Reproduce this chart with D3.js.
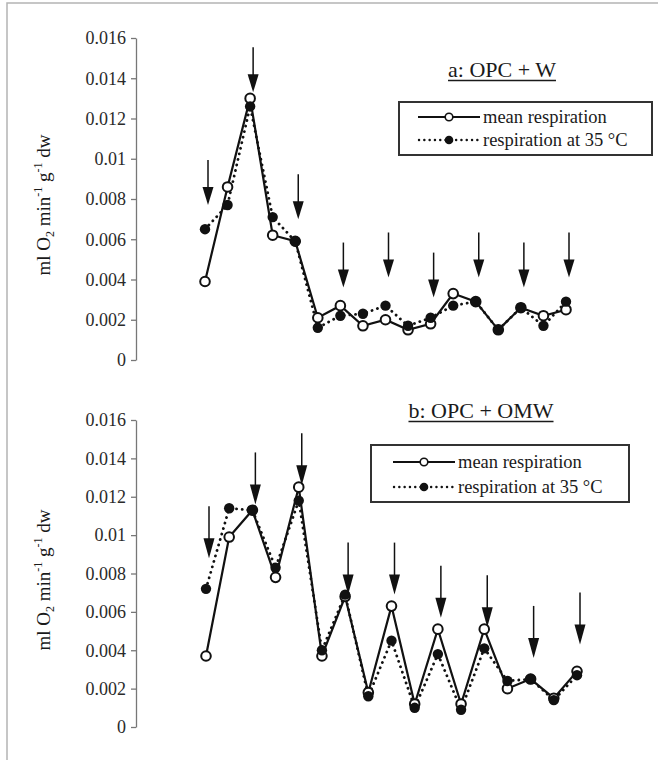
<!DOCTYPE html>
<html>
<head>
<meta charset="utf-8">
<script src="https://cdn.jsdelivr.net/npm/d3@7"></script>
<style>
  body { margin: 0; background: #fff; }
  svg { display: block; }
  svg text { font-family: "Liberation Serif", "Times New Roman", serif; }
</style>
</head>
<body>
<svg width="658" height="760" font-family="Liberation Serif, serif"></svg>
<script>
// sampling number along the x direction (no x axis drawn in the original)
var samples = [1, 2, 3, 4, 5, 6, 7, 8, 9, 10, 11, 12, 13, 14, 15, 16, 17];

// y ticks
var tickValues = [0, 0.002, 0.004, 0.006, 0.008, 0.01, 0.012, 0.014, 0.016];
var tickLabels = ["0", "0.002", "0.004", "0.006", "0.008", "0.01", "0.012", "0.014", "0.016"];

var legendLabels = ["mean respiration", "respiration at 35 \u00b0C"];

// a: OPC + W
var titleA = "a: OPC + W";
var meanA = [0.0039, 0.0086, 0.0130, 0.0062, 0.0059, 0.0021, 0.0027, 0.0017, 0.0020, 0.0015, 0.0018, 0.0033, 0.0029, 0.0015, 0.0026, 0.0022, 0.0025];
var hotA  = [0.0065, 0.0077, 0.0126, 0.0071, 0.0059, 0.0016, 0.0022, 0.0023, 0.0027, 0.0017, 0.0021, 0.0027, 0.0029, 0.0015, 0.0026, 0.0017, 0.0029];
var arrowSamplesA = [1, 3, 5, 7, 9, 11, 13, 15, 17];
var arrowTipsA = [0.0077, 0.0133, 0.0070, 0.0036, 0.0041, 0.0031, 0.0041, 0.0036, 0.0041];

// b: OPC + OMW
var titleB = "b: OPC + OMW";
var meanB = [0.0037, 0.0099, 0.0113, 0.0078, 0.0125, 0.0037, 0.0068, 0.0018, 0.0063, 0.0012, 0.0051, 0.0012, 0.0051, 0.0020, 0.0025, 0.0015, 0.0029];
var hotB  = [0.0072, 0.0114, 0.0113, 0.0083, 0.0118, 0.0040, 0.0069, 0.0016, 0.0045, 0.0010, 0.0038, 0.0009, 0.0041, 0.0024, 0.0025, 0.0014, 0.0027];
var arrowSamplesB = [1, 3, 5, 7, 9, 11, 13, 15, 17];
var arrowTipsB = [0.0088, 0.0116, 0.0126, 0.0069, 0.0069, 0.0057, 0.0052, 0.0036, 0.0043];

var svg = d3.select("svg");

// scanned page frame
svg.append("path")
    .attr("d", "M7,760V3H658")
    .attr("fill", "none")
    .attr("stroke", "#b4b4b4")
    .attr("stroke-width", 1.5);

var panels = [
  {title: titleA, mean: meanA, hot: hotA, arrowAt: arrowSamplesA, arrowTip: arrowTipsA,
   yTop: 38, yBot: 360, xFirst: 205, xLast: 566, labelY: 205,
   titleX: 502, titleY: 77, box: [399, 102, 253, 53], legX: 418, rowY: [117, 140],
   arrowLen: 45, headH: 18},
  {title: titleB, mean: meanB, hot: hotB, arrowAt: arrowSamplesB, arrowTip: arrowTipsB,
   yTop: 420, yBot: 727, xFirst: 206, xLast: 577, labelY: 580,
   titleX: 481, titleY: 418, box: [371, 445, 258, 57], legX: 393, rowY: [462, 487],
   arrowLen: 52, headH: 20}
];

var ink = "#111";

panels.forEach(function(p) {
  var x = d3.scalePoint().domain(samples).range([p.xFirst, p.xLast]);
  var y = d3.scaleLinear().domain([0, 0.016]).range([p.yBot, p.yTop]);

  var g = svg.append("g");

  // y axis
  var ax = g.append("g")
      .attr("transform", "translate(136,0)")
      .call(d3.axisLeft(y)
        .tickValues(tickValues)
        .tickFormat(function(d, i) { return tickLabels[i]; })
        .tickSize(5)
        .tickSizeOuter(0)
        .tickPadding(5));
  ax.attr("font-family", "Liberation Serif, serif");
  ax.select(".domain").attr("stroke", "#777").attr("stroke-width", 1.3);
  ax.selectAll(".tick line").attr("stroke", "#777").attr("stroke-width", 1.3);
  ax.selectAll(".tick text")
      .attr("fill", "#2a2a2a")
      .style("font-size", "18px");

  // y label
  var lab = g.append("text")
      .attr("transform", "translate(50," + p.labelY + ") rotate(-90)")
      .attr("text-anchor", "middle")
      .attr("fill", "#1a1a1a")
      .style("font-size", "19px");
  lab.append("tspan").text("ml O");
  lab.append("tspan").attr("dy", 4).style("font-size", "12px").text("2");
  lab.append("tspan").attr("dy", -4).text(" min");
  lab.append("tspan").attr("dy", -8).style("font-size", "12px").text("-1");
  lab.append("tspan").attr("dy", 8).text(" g");
  lab.append("tspan").attr("dy", -8).style("font-size", "12px").text("-1");
  lab.append("tspan").attr("dy", 8).text(" dw");

  // lines
  var line = d3.line()
      .x(function(d, i) { return x(samples[i]); })
      .y(function(d) { return y(d); });

  g.append("path")
      .datum(p.hot)
      .attr("d", line)
      .attr("fill", "none")
      .attr("stroke", ink)
      .attr("stroke-width", 2.8)
      .attr("stroke-linecap", "round")
      .attr("stroke-dasharray", "0.1,5.6");

  g.append("path")
      .datum(p.mean)
      .attr("d", line)
      .attr("fill", "none")
      .attr("stroke", ink)
      .attr("stroke-width", 2.2);

  // markers
  g.selectAll(".open")
    .data(p.mean)
    .enter().append("circle")
      .attr("class", "open")
      .attr("cx", function(d, i) { return x(samples[i]); })
      .attr("cy", function(d) { return y(d); })
      .attr("r", 4.8)
      .attr("fill", "#fff")
      .attr("stroke", ink)
      .attr("stroke-width", 2);

  g.selectAll(".filled")
    .data(p.hot)
    .enter().append("circle")
      .attr("class", "filled")
      .attr("cx", function(d, i) { return x(samples[i]); })
      .attr("cy", function(d) { return y(d); })
      .attr("r", 5.2)
      .attr("fill", ink);

  // arrows
  p.arrowAt.forEach(function(s, k) {
    var xa = x(s) + 3, tip = y(p.arrowTip[k]);
    g.append("line")
        .attr("x1", xa).attr("x2", xa)
        .attr("y1", tip - p.arrowLen).attr("y2", tip - p.headH + 2)
        .attr("stroke", ink)
        .attr("stroke-width", 1.5);
    g.append("path")
        .attr("d", "M" + (xa - 5.5) + "," + (tip - p.headH) + "L" + (xa + 5.5) + "," + (tip - p.headH) + "L" + xa + "," + tip + "Z")
        .attr("fill", ink);
  });

  // title, underlined
  var t = g.append("text")
      .attr("x", p.titleX)
      .attr("y", p.titleY)
      .attr("text-anchor", "middle")
      .attr("fill", "#1a1a1a")
      .style("font-size", "22px")
      .text(p.title);
  var w = t.node().getComputedTextLength();
  g.append("line")
      .attr("x1", p.titleX - w / 2).attr("x2", p.titleX + w / 2)
      .attr("y1", p.titleY + 3.5).attr("y2", p.titleY + 3.5)
      .attr("stroke", "#1a1a1a")
      .attr("stroke-width", 1.6);

  // legend
  g.append("rect")
      .attr("x", p.box[0]).attr("y", p.box[1])
      .attr("width", p.box[2]).attr("height", p.box[3])
      .attr("fill", "none")
      .attr("stroke", "#333")
      .attr("stroke-width", 2);

  var lx = p.legX;
  g.append("line")
      .attr("x1", lx).attr("x2", lx + 62)
      .attr("y1", p.rowY[0]).attr("y2", p.rowY[0])
      .attr("stroke", ink).attr("stroke-width", 2);
  g.append("circle")
      .attr("cx", lx + 31).attr("cy", p.rowY[0]).attr("r", 3.8)
      .attr("fill", "#fff").attr("stroke", ink).attr("stroke-width", 1.6);
  g.append("line")
      .attr("x1", lx + 1).attr("x2", lx + 62)
      .attr("y1", p.rowY[1]).attr("y2", p.rowY[1])
      .attr("stroke", ink).attr("stroke-width", 2.4)
      .attr("stroke-linecap", "round")
      .attr("stroke-dasharray", "0.1,5.2");
  g.append("circle")
      .attr("cx", lx + 31).attr("cy", p.rowY[1]).attr("r", 4.3)
      .attr("fill", ink);

  legendLabels.forEach(function(txt, i) {
    g.append("text")
        .attr("x", lx + 65)
        .attr("y", p.rowY[i] + 6)
        .attr("fill", "#1a1a1a")
        .style("font-size", "18.5px")
        .text(txt);
  });
});
</script>
</body>
</html>
